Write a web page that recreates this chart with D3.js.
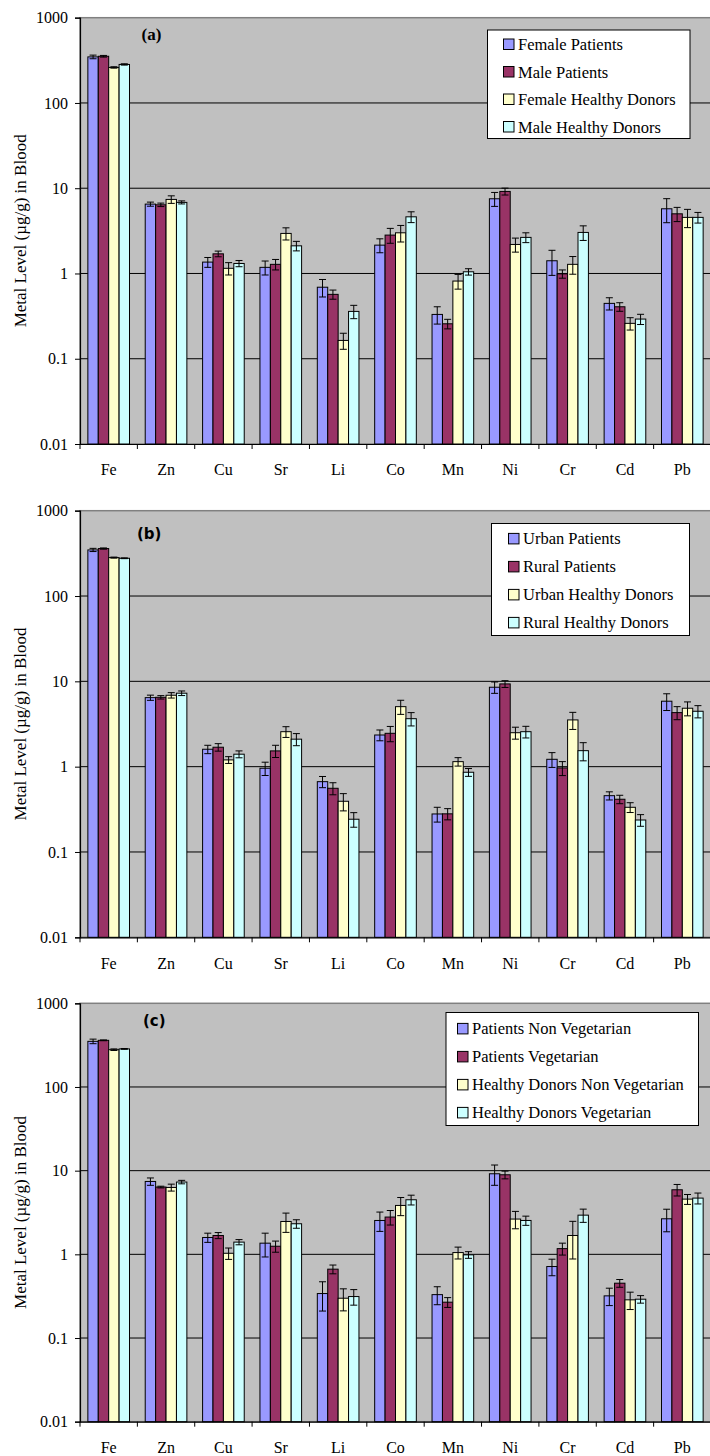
<!DOCTYPE html>
<html>
<head>
<meta charset="utf-8">
<script src="https://cdn.jsdelivr.net/npm/d3@7"></script>
<style>
  html, body { margin: 0; padding: 0; background: #fff; }
  svg { display: block; }
</style>
</head>
<body>
<svg id="chart" width="710" height="1456"></svg>
<script>
const elements = ["Fe", "Zn", "Cu", "Sr", "Li", "Co", "Mn", "Ni", "Cr", "Cd", "Pb"];
const yTicks = [0.01, 0.1, 1, 10, 100, 1000];
const colors = ["#9999FF", "#993366", "#FFFFCC", "#CCFFFF"];

// panel (a): gender
const seriesA = ["Female Patients", "Male Patients", "Female Healthy Donors", "Male Healthy Donors"];
const valuesA = [
    [347, 6.51, 1.36, 1.18, 0.69, 2.15, 0.331, 7.52, 1.41, 0.446, 5.74],
    [353, 6.39, 1.70, 1.28, 0.569, 2.82, 0.257, 9.17, 0.99, 0.407, 5.01],
    [261, 7.39, 1.15, 2.95, 0.164, 3.0, 0.815, 2.19, 1.28, 0.26, 4.55],
    [283, 6.82, 1.31, 2.11, 0.359, 4.62, 1.047, 2.65, 3.03, 0.292, 4.55]
];
const errorsA = [
    [17, 0.36, 0.18, 0.22, 0.16, 0.4, 0.076, 1.4, 0.46, 0.073, 1.8],
    [8, 0.3, 0.13, 0.18, 0.07, 0.56, 0.033, 0.85, 0.11, 0.047, 0.95],
    [5, 0.75, 0.19, 0.48, 0.035, 0.66, 0.16, 0.41, 0.3, 0.043, 1.1],
    [5, 0.28, 0.11, 0.27, 0.064, 0.67, 0.09, 0.35, 0.59, 0.04, 0.65]
];

// panel (b): area
const seriesB = ["Urban Patients", "Rural Patients", "Urban Healthy Donors", "Rural Healthy Donors"];
const valuesB = [
    [347, 6.44, 1.60, 0.958, 0.667, 2.35, 0.279, 8.53, 1.22, 0.457, 5.85],
    [360, 6.5, 1.69, 1.53, 0.558, 2.46, 0.28, 9.33, 0.966, 0.415, 4.30],
    [282, 6.87, 1.20, 2.57, 0.393, 5.05, 1.145, 2.5, 3.53, 0.334, 4.84],
    [277, 7.26, 1.40, 2.10, 0.242, 3.65, 0.86, 2.57, 1.54, 0.237, 4.46]
];
const errorsB = [
    [15, 0.45, 0.18, 0.17, 0.1, 0.34, 0.055, 1.3, 0.24, 0.05, 1.3],
    [6, 0.3, 0.17, 0.25, 0.09, 0.5, 0.042, 0.85, 0.18, 0.047, 0.75],
    [4, 0.5, 0.11, 0.37, 0.09, 0.95, 0.13, 0.4, 0.8, 0.044, 0.9],
    [3, 0.45, 0.13, 0.34, 0.047, 0.65, 0.09, 0.4, 0.37, 0.037, 0.73]
];

// panel (c): diet
const seriesC = ["Patients Non Vegetarian", "Patients Vegetarian", "Healthy Donors Non Vegetarian", "Healthy Donors Vegetarian"];
const valuesC = [
    [351, 7.43, 1.59, 1.36, 0.34, 2.54, 0.33, 9.18, 0.715, 0.319, 2.66],
    [361, 6.37, 1.68, 1.25, 0.665, 2.79, 0.268, 8.93, 1.17, 0.452, 5.91],
    [279, 6.3, 1.03, 2.47, 0.299, 3.84, 1.05, 2.64, 1.68, 0.286, 4.57],
    [285, 7.31, 1.40, 2.32, 0.313, 4.49, 0.986, 2.54, 2.94, 0.291, 4.7]
];
const errorsC = [
    [22, 0.75, 0.2, 0.43, 0.13, 0.66, 0.08, 2.5, 0.16, 0.075, 0.8],
    [4, 0.15, 0.14, 0.19, 0.08, 0.55, 0.036, 0.95, 0.19, 0.048, 0.93],
    [6, 0.6, 0.16, 0.64, 0.088, 0.94, 0.17, 0.62, 0.8, 0.067, 0.62],
    [3, 0.35, 0.1, 0.27, 0.066, 0.6, 0.09, 0.32, 0.53, 0.03, 0.7]
];

const SERIF = "Liberation Serif, Times New Roman, serif";
const SANS = "DejaVu Sans, Liberation Sans, sans-serif";

const panels = [
    { label: "(a)", series: seriesA, values: valuesA, errors: errorsA,
      top: 17.7, bottom: 444, labelFamily: SERIF, labelSize: 17, labelX: 141.5, labelY: 39.5,
      legend: { x: 487.5, y: 30, w: 202.5, h: 108.5, sx: 503.5, row0: 44.3, step: 27.5 } },
    { label: "(b)", series: seriesB, values: valuesB, errors: errorsB,
      top: 510.7, bottom: 937.3, labelFamily: SANS, labelSize: 15, labelX: 137, labelY: 539,
      legend: { x: 491.5, y: 523.5, w: 198, h: 112, sx: 508.5, row0: 538.7, step: 28 } },
    { label: "(c)", series: seriesC, values: valuesC, errors: errorsC,
      top: 1003.3, bottom: 1421.7, labelFamily: SANS, labelSize: 15, labelX: 143, labelY: 1026,
      legend: { x: 446, y: 1012.5, w: 252.5, h: 113, sx: 457.5, row0: 1028.7, step: 28 } }
];

const left = 80;
const right = 711;

const svg = d3.select("#chart")
    .attr("font-family", SERIF);

panels.forEach(p => {
    const g = svg.append("g");

    const x = d3.scaleBand()
        .domain(elements)
        .range([left, right])
        .padding(0);

    const inset = x.bandwidth() * 0.137;
    const x1 = d3.scaleBand()
        .domain(d3.range(p.series.length))
        .range([inset, x.bandwidth() - inset])
        .padding(0);

    const y = d3.scaleLog()
        .domain([0.01, 1000])
        .range([p.bottom, p.top]);

    // plot background
    g.append("rect")
        .attr("x", left)
        .attr("y", p.top)
        .attr("width", right - left)
        .attr("height", p.bottom - p.top)
        .attr("fill", "#C0C0C0")
        .attr("stroke", "#808080")
        .attr("stroke-width", 1.5);

    // gridlines
    g.append("g")
        .selectAll("line")
        .data(yTicks.filter(t => t > 0.01 && t < 1000))
        .join("line")
        .attr("x1", left)
        .attr("x2", right)
        .attr("y1", d => y(d))
        .attr("y2", d => y(d))
        .attr("stroke", "#000")
        .attr("stroke-width", 1);

    // bars
    const rows = [];
    p.series.forEach((s, si) => {
        elements.forEach((el, ei) => {
            rows.push({ si, el, v: p.values[si][ei], e: p.errors[si][ei] });
        });
    });

    g.append("g")
        .selectAll("rect")
        .data(rows)
        .join("rect")
        .attr("x", d => x(d.el) + x1(d.si))
        .attr("y", d => y(d.v))
        .attr("width", x1.bandwidth())
        .attr("height", d => p.bottom - y(d.v))
        .attr("fill", d => colors[d.si])
        .attr("stroke", "#000")
        .attr("stroke-width", 1);

    // error bars
    const eb = g.append("g")
        .attr("stroke", "#000")
        .attr("stroke-width", 1)
        .selectAll("g")
        .data(rows)
        .join("g")
        .attr("transform", d => `translate(${x(d.el) + x1(d.si) + x1.bandwidth() / 2},0)`);

    eb.append("line")
        .attr("y1", d => y(d.v + d.e))
        .attr("y2", d => y(Math.max(d.v - d.e, 0.011)));
    eb.append("line")
        .attr("x1", -3.5).attr("x2", 3.5)
        .attr("y1", d => y(d.v + d.e))
        .attr("y2", d => y(d.v + d.e));
    eb.append("line")
        .attr("x1", -3.5).attr("x2", 3.5)
        .attr("y1", d => y(Math.max(d.v - d.e, 0.011)))
        .attr("y2", d => y(Math.max(d.v - d.e, 0.011)));

    // y axis
    const yAxis = d3.axisLeft(y)
        .tickValues(yTicks)
        .tickFormat(d => d3.format("~g")(d))
        .tickSize(5)
        .tickPadding(7);

    g.append("g")
        .attr("transform", `translate(${left},0)`)
        .call(yAxis)
        .attr("font-family", SERIF)
        .attr("font-size", 16)
        .call(a => a.select(".domain").attr("stroke", "#000").attr("stroke-width", 1.2))
        .call(a => a.selectAll("text").attr("fill", "#000"));

    // x axis
    const xAxis = d3.axisBottom(x)
        .tickSize(0)
        .tickPadding(20);

    g.append("g")
        .attr("transform", `translate(0,${p.bottom})`)
        .call(xAxis)
        .attr("font-family", SERIF)
        .attr("font-size", 16)
        .call(a => a.select(".domain").attr("stroke", "#000").attr("stroke-width", 1.2))
        .call(a => a.selectAll("text").attr("fill", "#000"));

    // tick marks at category boundaries
    g.append("g")
        .selectAll("line")
        .data(elements)
        .join("line")
        .attr("x1", d => x(d))
        .attr("x2", d => x(d))
        .attr("y1", p.bottom)
        .attr("y2", p.bottom + 5)
        .attr("stroke", "#000");

    // y title
    g.append("text")
        .attr("transform", `translate(25.5,${(p.top + p.bottom) / 2}) rotate(-90)`)
        .attr("text-anchor", "middle")
        .attr("font-family", SERIF)
        .attr("font-size", 17)
        .text("Metal Level (µg/g) in Blood");

    // panel label
    g.append("text")
        .attr("x", p.labelX)
        .attr("y", p.labelY)
        .attr("font-family", p.labelFamily)
        .attr("font-size", p.labelSize)
        .attr("font-weight", "bold")
        .text(p.label);

    // legend
    const L = p.legend;
    g.append("rect")
        .attr("x", L.x)
        .attr("y", L.y)
        .attr("width", L.w)
        .attr("height", L.h)
        .attr("fill", "#fff")
        .attr("stroke", "#000")
        .attr("stroke-width", 1);

    const item = g.append("g")
        .selectAll("g")
        .data(p.series)
        .join("g")
        .attr("transform", (d, i) => `translate(${L.sx},${L.row0 + i * L.step})`);

    item.append("rect")
        .attr("x", 0)
        .attr("y", -5.3)
        .attr("width", 10.5)
        .attr("height", 10.5)
        .attr("fill", (d, i) => colors[i])
        .attr("stroke", "#000");

    item.append("text")
        .attr("x", 14.5)
        .attr("dy", "0.35em")
        .attr("font-family", SERIF)
        .attr("font-size", 16.5)
        .text(d => d);
});
</script>
</body>
</html>
